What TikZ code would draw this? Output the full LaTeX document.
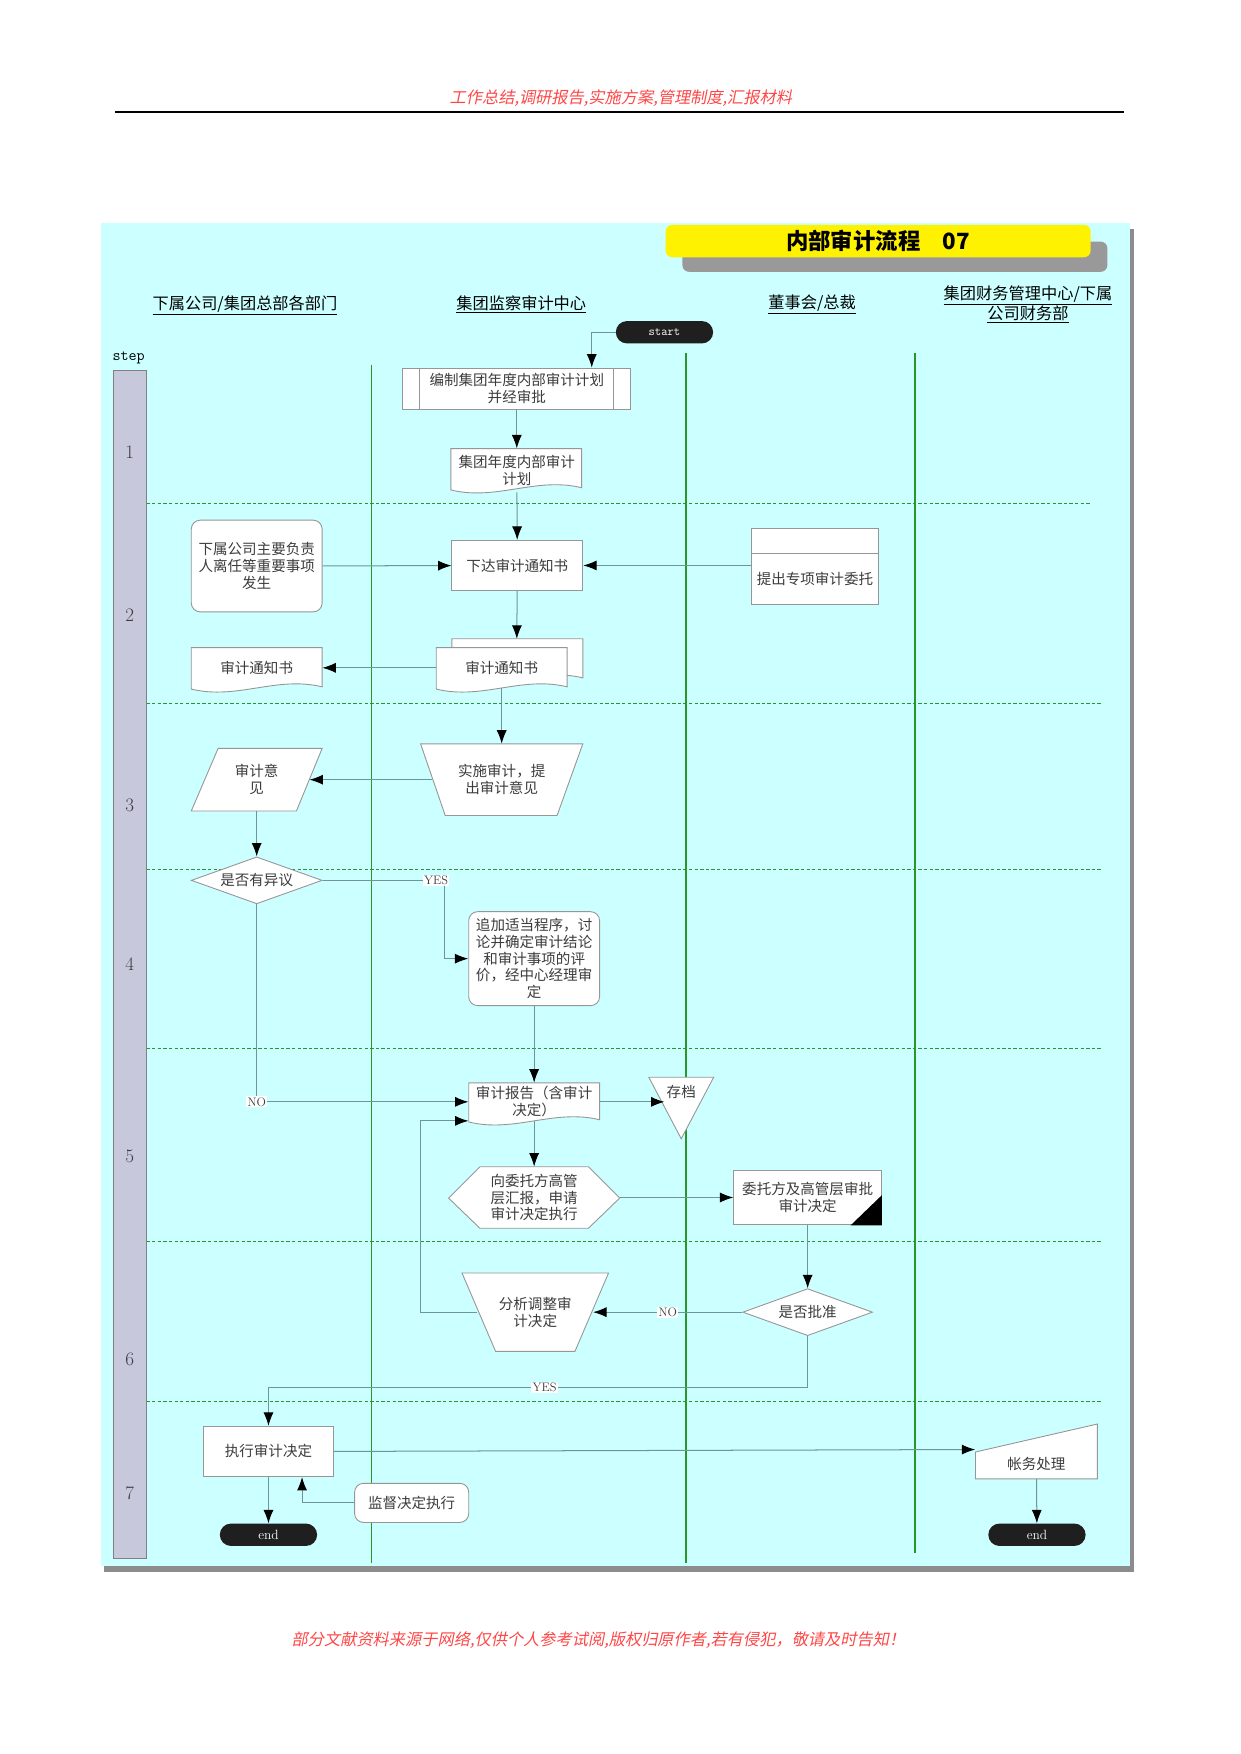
\documentclass[tikz,border=0pt]{standalone}
\usepackage{fontspec}
\newfontfamily\cjk{Noto Sans CJK SC}
\newfontfamily\cjksl[FakeSlant=0.2]{Noto Sans CJK SC}
\usetikzlibrary{shapes.geometric,arrows.meta,calc}

\definecolor{panelc}{RGB}{204,255,255}
\definecolor{stepc}{RGB}{200,200,220}
\definecolor{lanegreen}{RGB}{40,150,40}
\definecolor{linec}{RGB}{110,150,150}
\definecolor{edgec}{RGB}{150,150,150}
\definecolor{txtc}{RGB}{60,60,60}
\definecolor{notec}{RGB}{255,70,70}

\newcommand{\docshape}[4]{\filldraw[shp] (#1,#2) -- (#3,#2) -- (#3,{#4-7}) .. controls ({#3-0.35*(#3-#1)},{#4-17}) and ({#1+0.35*(#3-#1)},{#4+5}) .. (#1,{#4-5}) -- cycle;}

\begin{document}
\begin{tikzpicture}[x=1pt,y=-1pt,
    box/.style={draw=edgec, fill=white, line width=0.8pt, inner sep=2pt, align=center, text=txtc, font=\cjk\fontsize{13}{15}\selectfont},
    rbox/.style={box, rounded corners=8pt},
    slot/.style={inner sep=0pt, align=center, text=txtc, font=\cjk\fontsize{13}{15}\selectfont},
    dia/.style={diamond, aspect=2.8, draw=edgec, fill=white, line width=0.8pt, inner sep=0pt, text=txtc, font=\cjk\fontsize{13}{15}\selectfont},
    term/.style={fill=black!88, rounded corners=10pt, minimum width=87pt, minimum height=20pt, inner sep=0pt, text=white},
    tag/.style={fill=white, inner sep=1pt, text=txtc, font=\fontsize{11}{11}\selectfont},
    head/.style={align=center, font=\cjk\fontsize{14.5}{16}\selectfont},
    flow/.style={draw=linec, line width=0.9pt, -{Latex[color=black,length=12pt,width=9pt]}},
    shp/.style={draw=edgec, fill=white, line width=0.8pt},
    lanec/.style={draw=lanegreen, line width=1.5pt}]

    \useasboundingbox (0,0) rectangle (1109,1568);

    \node[font=\cjksl\fontsize{14.5}{15}\selectfont, text=notec] (hdr) at (555,88) {工作总结,调研报告,实施方案,管理制度,汇报材料};
    \draw[line width=2pt] (103,100) -- (1005,100);
    \node[font=\cjksl\fontsize{14.5}{15}\selectfont, text=notec] (ftr) at (535,1466) {部分文献资料来源于网络,仅供个人参考试阅,版权归原作者,若有侵犯，敬请及时告知！};

    \fill[gray!90] (93,205) rectangle (1014,1405);
    \fill[panelc] (90,199) rectangle (1010,1400);
    \fill[gray!80, rounded corners=6pt] (610,216) rectangle (990,243);
    \node[fill=yellow, rounded corners=6pt, minimum width=380pt, minimum height=29pt, font=\cjk\bfseries\fontsize{20}{20}\selectfont] (title) at (785,215.5) {内部审计流程\quad 07};

    \node[head] (laneA) at (219,273) {\underline{下属公司/集团总部各部门}};
    \node[head] (laneB) at (466,272) {\underline{集团监察审计中心}};
    \node[head] (laneC) at (726,272) {\underline{董事会/总裁}};
    \node[head] (laneD) at (919,272) {\underline{集团财务管理中心/下属}\\\underline{公司财务部}};

    \node[font=\ttfamily\fontsize{14}{14}\selectfont] (steplbl) at (115,320) {step};
    \filldraw[fill=stepc, draw=gray, line width=0.8pt] (101,331) rectangle (131,1393);
    \foreach \n/\y in {1/404,2/550,3/720,4/862,5/1034,6/1215,7/1335}
        \node[font=\fontsize{17}{17}\selectfont, text=txtc] (s\n) at (116,\y) {\n};

    \foreach \x/\t/\b in {332/326/1397,613/316/1397,818/316/1388}
        \draw[lanec] (\x,\t) -- (\x,\b);
    \foreach \y/\r in {450/975,629/985,777/985,937/985,1110/985,1253/985}
        \draw[draw=lanegreen, line width=1pt, dash pattern=on 3pt off 2pt] (131,\y) -- (\r,\y);

    \node[term, font=\ttfamily\fontsize{11}{11}\selectfont] (start) at (594,297) {start};
    \node[box, minimum width=204pt, minimum height=37pt] (plan) at (462,347.5) {编制集团年度内部审计计划\\并经审批};
    \draw[draw=edgec, line width=0.8pt] ([xshift=15pt]plan.north west) -- ([xshift=15pt]plan.south west);
    \draw[draw=edgec, line width=0.8pt] ([xshift=-16pt]plan.north east) -- ([xshift=-16pt]plan.south east);

    \docshape{403}{401}{520}{443}
    \node[slot, minimum width=117pt, minimum height=39pt] (plandoc) at (462,420.5) {集团年度内部审计\\计划};

    \node[box, minimum width=117pt, minimum height=45pt] (notice) at (462.5,505.5) {下达审计通知书};
    \node[rbox, minimum width=117pt, minimum height=82pt] (event) at (229.5,506) {下属公司主要负责\\人离任等重要事项\\发生};
    \node[box, minimum width=113pt, minimum height=45pt] (request) at (728.5,517.5) {提出专项审计委托};
    \filldraw[shp] (request.north west) rectangle ([yshift=22pt]request.north east);

    \docshape{404}{571}{521}{613}
    \docshape{390}{579}{507}{621}
    \node[slot, minimum width=117pt, minimum height=36pt] (copies) at (448.5,597) {审计通知书};
    \coordinate (copiestop) at (462,571);
    \docshape{171}{579}{288}{621}
    \node[slot, minimum width=117pt, minimum height=36pt] (noticeA) at (229.5,597) {审计通知书};

    \filldraw[shp] (376,665) -- (521,665) -- (498,729) -- (398,729) -- cycle;
    \node[slot, minimum width=125pt, minimum height=64pt] (audit) at (448.5,697) {实施审计，提\\出审计意见};
    \filldraw[shp] (195,669) -- (288,669) -- (265,725) -- (171,725) -- cycle;
    \node[slot, minimum width=94pt, minimum height=56pt] (opinion) at (229.5,697) {审计意\\见};

    \node[dia, minimum width=117pt, minimum height=42pt] (obj) at (229.5,787) {是否有异议};
    \node[rbox, minimum width=117pt, minimum height=84pt] (extra) at (477.5,857) {追加适当程序，讨\\论并确定审计结论\\和审计事项的评\\价，经中心经理审\\定};

    \docshape{419}{968}{536}{1008}
    \node[slot, minimum width=117pt, minimum height=34pt] (report) at (477.5,985) {审计报告（含审计\\决定）};
    \filldraw[shp] (580,963) -- (638,963) -- (609,1018) -- cycle;
    \node[slot] (archive) at (609,976) {存档};
    \coordinate (archivein) at (594,989);

    \filldraw[shp] (401,1071) -- (429,1043) -- (526,1043) -- (554,1071) -- (526,1098) -- (429,1098) -- cycle;
    \node[slot, minimum width=153pt, minimum height=55pt] (escalate) at (477.5,1070.5) {向委托方高管\\层汇报，申请\\审计决定执行};
    \node[box, minimum width=132pt, minimum height=49pt] (approve) at (722,1070.5) {委托方及高管层审批\\审计决定};
    \fill[black] (approve.south east) -- ++(0,-27) -- ++(-28,27) -- cycle;

    \node[dia, minimum width=116pt, minimum height=42pt] (decide) at (722,1173) {是否批准};
    \filldraw[shp] (413,1138) -- (544,1138) -- (514,1208) -- (443,1208) -- cycle;
    \node[slot, minimum width=103pt, minimum height=70pt] (adjust) at (478.5,1173) {分析调整审\\计决定};
    \coordinate (loopx) at (376,1173);

    \node[box, minimum width=116pt, minimum height=45pt] (execute) at (240,1297.5) {执行审计决定};
    \filldraw[shp] (872,1298) -- (981,1273) -- (981,1322) -- (872,1322) -- cycle;
    \node[slot, minimum width=109pt, minimum height=26pt] (account) at (926.5,1309) {帐务处理};
    \node[rbox, minimum width=102pt, minimum height=35pt] (supervise) at (368,1343.5) {监督决定执行};
    \node[term, font=\fontsize{12}{12}\selectfont] (endA) at (240,1372) {end};
    \node[term, font=\fontsize{12}{12}\selectfont] (endB) at (927,1372) {end};

    \draw[flow] (start.west) -| ([xshift=67pt]plan.north);
    \draw[flow] (plan) -- (plandoc);
    \draw[flow] (plandoc) -- (notice);
    \draw[flow] (event) -- (notice);
    \draw[flow] (request.west |- notice) -- (notice);
    \draw[flow] (notice) -- (copiestop);
    \draw[flow] (copies) -- (noticeA);
    \draw[flow] (copies) -- (audit);
    \draw[flow] (audit) -- (opinion);
    \draw[flow] (opinion) -- (obj);
    \draw[flow] (obj.east) -- node[tag, pos=0.93] (yes1) {YES} ++(109,0) |- (extra.west);
    \draw[flow] (obj.south) |- node[tag, pos=0.5] (no1) {NO} (report.west);
    \draw[flow] (extra) -- (report);
    \draw[flow] (report) -- (report -| archivein);
    \draw[flow] (report) -- (escalate);
    \draw[flow] (escalate) -- (approve);
    \draw[flow] (approve) -- (decide);
    \draw[flow] (decide) -- node[tag] (no2) {NO} (adjust);
    \draw[flow] (adjust.west) -- (loopx) |- ([yshift=-17pt]report.west);
    \draw[flow] (decide.south) -- ++(0,46) -| node[tag, pos=0.244] (yes2) {YES} (execute.north);
    \draw[flow] (execute.east) -- (account.north west);
    \draw[flow] (execute) -- (endA);
    \draw[flow] (account) -- (endB);
    \draw[flow] (supervise.west) -| ([xshift=30pt]execute.south);
\end{tikzpicture}
\end{document}
